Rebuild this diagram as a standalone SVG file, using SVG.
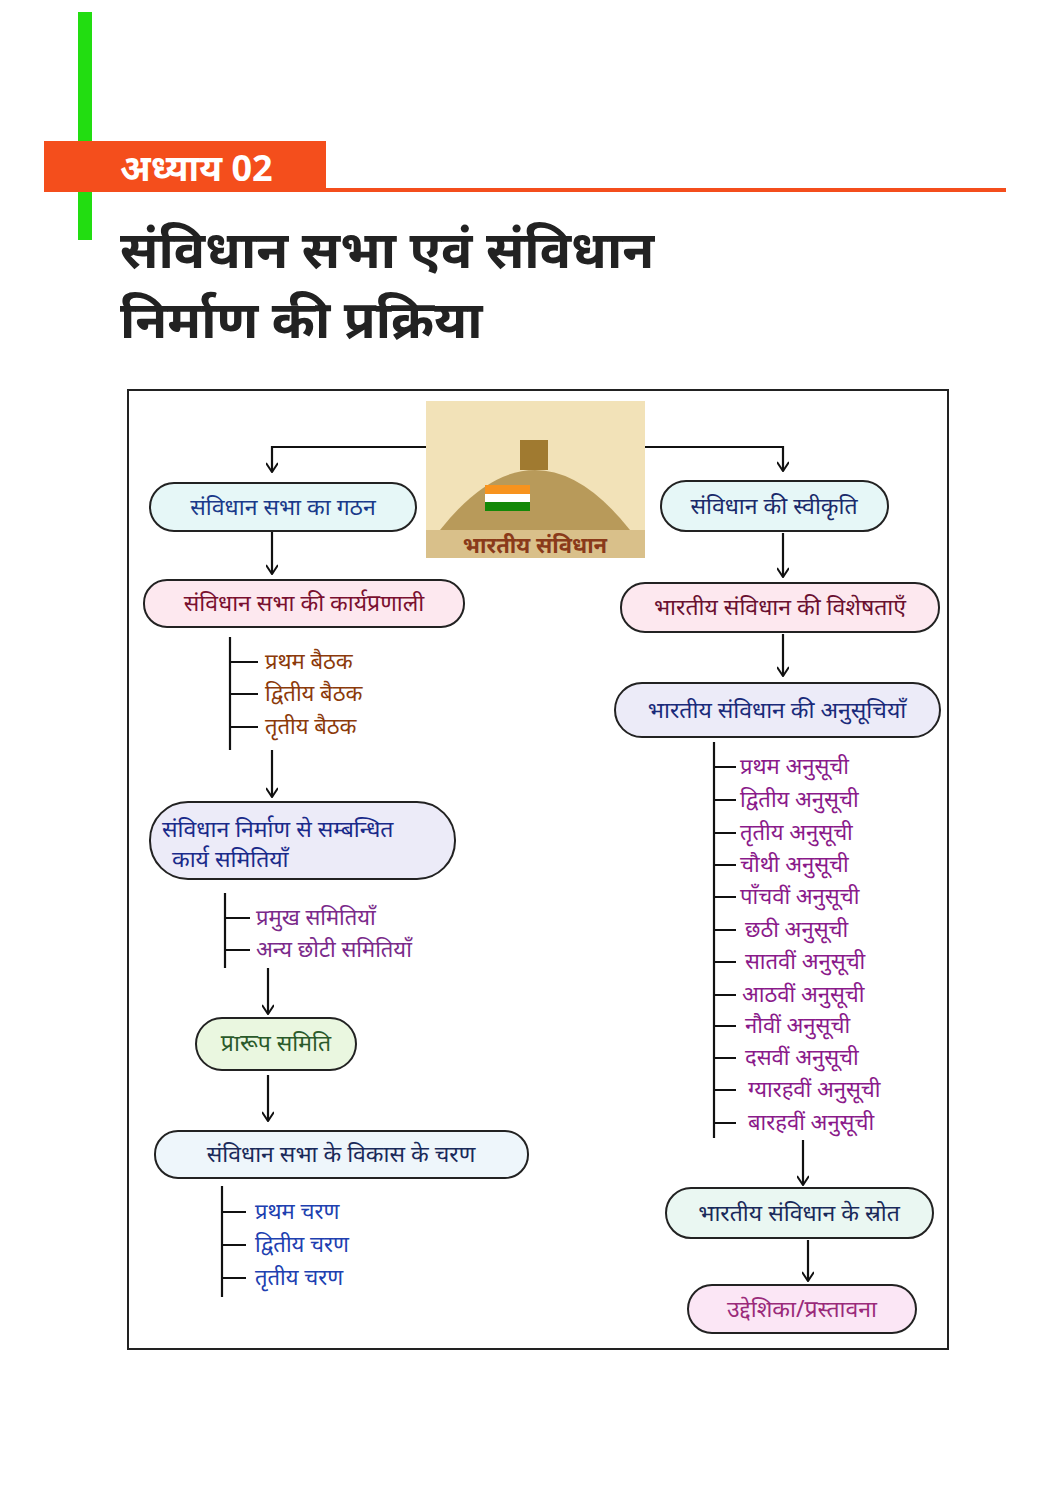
<svg xmlns="http://www.w3.org/2000/svg" width="1060" height="1500" viewBox="0 0 1060 1500">
<style>
text{font-family:"Noto Sans","Noto Sans Devanagari","Lohit Devanagari",sans-serif}
.n{stroke:#222;stroke-width:2}
.c{stroke:#111;stroke-width:2.2;fill:none}
.t{font-size:23px}
.l{font-size:22px}
</style>
<defs><marker id="a" viewBox="0 0 12 12" refX="11" refY="6" markerWidth="12" markerHeight="12" markerUnits="userSpaceOnUse" orient="auto"><path d="M2,0 L11,6 L2,12" fill="none" stroke="#111" stroke-width="2"/></marker></defs>
<rect width="1060" height="1500" fill="#fff"/>
<rect x="78" y="12" width="14" height="228" fill="#22dd11"/>
<rect x="44" y="141" width="282" height="51" fill="#f44e1c"/>
<rect x="326" y="188" width="680" height="4" fill="#f44e1c"/>
<text x="120" y="181" font-size="36" font-weight="bold" fill="#fff">अध्याय 02</text>
<text x="120" y="268" font-size="52" font-weight="bold" fill="#222">संविधान सभा एवं संविधान</text>
<text x="120" y="338" font-size="52" font-weight="bold" fill="#222">निर्माण की प्रक्रिया</text>
<rect x="128" y="390" width="820" height="959" fill="none" stroke="#222" stroke-width="2"/>
<g id="emblem">
<rect x="426" y="401" width="219" height="157" fill="#f2e2b8"/>
<path d="M440,530 Q535,410 630,530 Z" fill="#b89a5a"/>
<rect x="520" y="440" width="28" height="30" fill="#a07a30"/>
<rect x="485" y="485" width="45" height="26" fill="#fff"/><rect x="485" y="485" width="45" height="9" fill="#f7931e"/><rect x="485" y="502" width="45" height="9" fill="#138808"/>
<rect x="426" y="530" width="219" height="28" fill="#d9c08a"/>
<text x="535" y="553" font-size="22" font-weight="bold" fill="#8a3a1a" text-anchor="middle">भारतीय संविधान</text>
</g>
<g id="connectors">
<path class="c" d="M426,447 H272 V472" marker-end="url(#a)"/>
<path class="c" d="M645,447 H783 V471" marker-end="url(#a)"/>
<path class="c" d="M272,531 V574" marker-end="url(#a)"/>
<path class="c" d="M272,750 V797" marker-end="url(#a)"/>
<path class="c" d="M268,968 V1014" marker-end="url(#a)"/>
<path class="c" d="M268,1075 V1121" marker-end="url(#a)"/>
<path class="c" d="M783,533 V577" marker-end="url(#a)"/>
<path class="c" d="M783,634 V676" marker-end="url(#a)"/>
<path class="c" d="M803,1140 V1185" marker-end="url(#a)"/>
<path class="c" d="M808,1240 V1281" marker-end="url(#a)"/>
<path class="c" d="M230,637 V750 M230,662 H258 M230,694 H258 M230,727 H258"/>
<path class="c" d="M225,893 V968 M225,918 H250 M225,950 H250"/>
<path class="c" d="M222,1186 V1297 M222,1212 H246 M222,1245 H246 M222,1278 H246"/>
<path class="c" d="M714,742 V1138 M714,767 H736 M714,800 H736 M714,833 H736 M714,865 H736 M714,897 H736 M714,930 H736 M714,962 H736 M714,995 H736 M714,1026 H736 M714,1058 H736 M714,1090 H736 M714,1123 H736"/>
</g>
<g id="n1"><rect class="n" x="150" y="483" width="266" height="48" rx="24" fill="#e6f7f7"/><text class="t" x="283" y="515" text-anchor="middle" fill="#1a3a8a">संविधान सभा का गठन</text></g>
<g id="n2"><rect class="n" x="144" y="580" width="320" height="47" rx="23" fill="#fde8ef"/><text class="t" x="304" y="611" text-anchor="middle" fill="#7a1030">संविधान सभा की कार्यप्रणाली</text></g>
<g id="l1" fill="#8b3a0a"><text class="l" x="265" y="669">प्रथम बैठक</text><text class="l" x="265" y="701">द्वितीय बैठक</text><text class="l" x="265" y="734">तृतीय बैठक</text></g>
<g id="n3"><rect class="n" x="150" y="802" width="305" height="77" rx="38" fill="#ecebf8"/><text class="t" x="162" y="837" fill="#1a2a8a">संविधान निर्माण से सम्बन्धित</text><text class="t" x="172" y="867" fill="#1a2a8a">कार्य समितियाँ</text></g>
<g id="l2" fill="#7a2a8a"><text class="l" x="256" y="925">प्रमुख समितियाँ</text><text class="l" x="256" y="957">अन्य छोटी समितियाँ</text></g>
<g id="n4"><rect class="n" x="196" y="1018" width="160" height="52" rx="26" fill="#eaf7e0"/><text class="t" x="276" y="1051" text-anchor="middle" fill="#2a5a2a">प्रारूप समिति</text></g>
<g id="n5"><rect class="n" x="155" y="1131" width="373" height="47" rx="23" fill="#eef6fb"/><text class="t" x="341" y="1162" text-anchor="middle" fill="#1a2a5a">संविधान सभा के विकास के चरण</text></g>
<g id="l3" fill="#2040b0"><text class="l" x="255" y="1219">प्रथम चरण</text><text class="l" x="255" y="1252">द्वितीय चरण</text><text class="l" x="255" y="1285">तृतीय चरण</text></g>
<g id="r1"><rect class="n" x="661" y="481" width="227" height="50" rx="25" fill="#e6f7f7"/><text class="t" x="774" y="514" text-anchor="middle" fill="#1a2a6a">संविधान की स्वीकृति</text></g>
<g id="r2"><rect class="n" x="621" y="583" width="318" height="49" rx="24" fill="#fde8ef"/><text class="t" x="780" y="615" text-anchor="middle" fill="#6a1030">भारतीय संविधान की विशेषताएँ</text></g>
<g id="r3"><rect class="n" x="615" y="683" width="325" height="54" rx="27" fill="#ecebf8"/><text class="t" x="777" y="718" text-anchor="middle" fill="#1a2a7a">भारतीय संविधान की अनुसूचियाँ</text></g>
<g id="l4" fill="#8a1a8a"><text class="l" x="740" y="774">प्रथम अनुसूची</text><text class="l" x="740" y="807">द्वितीय अनुसूची</text><text class="l" x="740" y="840">तृतीय अनुसूची</text><text class="l" x="740" y="872">चौथी अनुसूची</text><text class="l" x="740" y="904">पाँचवीं अनुसूची</text><text class="l" x="745" y="937">छठी अनुसूची</text><text class="l" x="745" y="969">सातवीं अनुसूची</text><text class="l" x="742" y="1002">आठवीं अनुसूची</text><text class="l" x="745" y="1033">नौवीं अनुसूची</text><text class="l" x="745" y="1065">दसवीं अनुसूची</text><text class="l" x="748" y="1097">ग्यारहवीं अनुसूची</text><text class="l" x="748" y="1130">बारहवीं अनुसूची</text></g>
<g id="r4"><rect class="n" x="666" y="1188" width="267" height="50" rx="25" fill="#eaf7f2"/><text class="t" x="799" y="1221" text-anchor="middle" fill="#1a2a5a">भारतीय संविधान के स्रोत</text></g>
<g id="r5"><rect class="n" x="688" y="1285" width="228" height="48" rx="24" fill="#fbe6f5"/><text class="t" x="802" y="1317" text-anchor="middle" fill="#9a2a7a">उद्देशिका/प्रस्तावना</text></g>
</svg>
